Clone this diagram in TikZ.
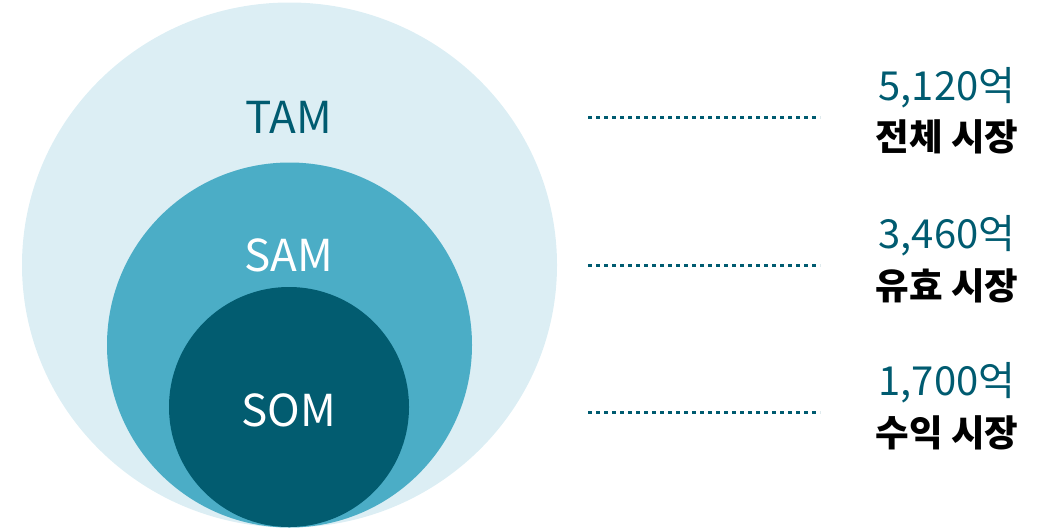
\documentclass[tikz,border=0pt]{standalone}
\usepackage{fontspec}
\setmainfont{Noto Sans CJK KR}
\definecolor{tamc}{HTML}{DCEEF4}
\definecolor{samc}{HTML}{4BADC6}
\definecolor{somc}{HTML}{025C70}
\definecolor{tealtxt}{HTML}{005B70}
\tikzset{
  lbl/.style={font=\fontsize{44}{46}\selectfont},
  val/.style={font=\fontsize{40}{42}\selectfont, text=tealtxt, inner sep=0pt},
  mkt/.style={font=\fontsize{36.5}{38}\selectfont\bfseries, text=black, inner sep=0pt},
  dotline/.style={draw=tealtxt, line width=3pt, dash pattern=on 4pt off 4pt}
}
\begin{document}
\begin{tikzpicture}[x=1pt,y=-1pt]
\useasboundingbox (0,0) rectangle (1043,528);
\fill[tamc] (289.5,265) ellipse [x radius=267.5, y radius=262.5];
\fill[samc] (289.5,345) circle (182.5);
\fill[somc] (289,407) circle (120);
\node[lbl, text=tealtxt] (tam) at (289,117) {TAM};
\node[lbl, text=white] (sam) at (289,255) {SAM};
\node[lbl, text=white] (som) at (289,410) {SOM};
\coordinate (a1) at (588,117); \coordinate (a2) at (820,117);
\coordinate (b1) at (588,265); \coordinate (b2) at (820,265);
\coordinate (c1) at (588,412); \coordinate (c2) at (820,412);
\draw[dotline] (a1) -- (a2);
\draw[dotline] (b1) -- (b2);
\draw[dotline] (c1) -- (c2);
\node[val] (v1) at (947,88) {5,120억};
\node[mkt] (m1) at (947,137) {전체 시장};
\node[val] (v2) at (947,236) {3,460억};
\node[mkt] (m2) at (947,286) {유효 시장};
\node[val] (v3) at (947,383) {1,700억};
\node[mkt] (m3) at (947,433) {수익 시장};
\end{tikzpicture}
\end{document}
